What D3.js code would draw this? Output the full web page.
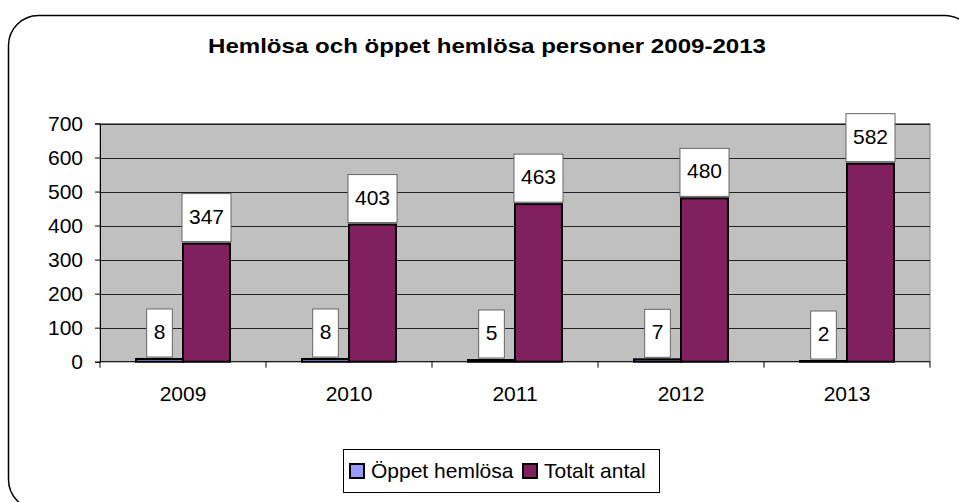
<!DOCTYPE html>
<html>
<head>
<meta charset="utf-8">
<script src="https://cdn.jsdelivr.net/npm/d3@7"></script>
<style>
  html, body { margin: 0; padding: 0; background: #fff; }
  svg { display: block; font-family: "Liberation Sans", Arial, sans-serif; }
</style>
</head>
<body>
<svg id="chart" width="959" height="502"></svg>
<script>
// ── data ──
const years = ['2009', '2010', '2011', '2012', '2013'];
const seriesNames = ['Öppet hemlösa', 'Totalt antal'];
const oppetHemlosa = [8, 8, 5, 7, 2];
const totaltAntal = [347, 403, 463, 480, 582];
const yTicks = [0, 100, 200, 300, 400, 500, 600, 700];

const colors = ['#9999ff', '#80205f'];

(function () {
    'use strict';

    const svg = d3.select('#chart');
    const left = 100, right = 930, top = 123.5, bottom = 361.7;

    // outer rounded frame
    svg.append('rect')
        .attr('x', 8.5).attr('y', 15.5)
        .attr('width', 966).attr('height', 494)
        .attr('rx', 30).attr('ry', 30)
        .attr('fill', '#fff').attr('stroke', '#000').attr('stroke-width', 1.5);

    // title (source font renders wider than ours, so stretch to its width)
    svg.append('text')
        .attr('x', 208).attr('y', 53)
        .attr('font-size', 21).attr('font-weight', 'bold')
        .attr('textLength', 558).attr('lengthAdjust', 'spacingAndGlyphs')
        .text('Hemlösa och öppet hemlösa personer 2009-2013');

    const x0 = d3.scaleBand().domain(years).range([left, right])
        .paddingInner(0.434).paddingOuter(0.217);
    const x1 = d3.scaleBand().domain([0, 1]).range([0, x0.bandwidth()]);
    const y = d3.scaleLinear().domain([0, 700]).range([bottom, top]);

    // plot background
    svg.append('rect')
        .attr('x', left).attr('y', top)
        .attr('width', right - left).attr('height', bottom - top)
        .attr('fill', '#c0c0c0').attr('stroke', '#808080');

    // gridlines
    svg.append('g')
        .selectAll('line')
        .data(yTicks.filter(function (t) { return t > 0; }))
        .join('line')
        .attr('x1', left).attr('x2', right)
        .attr('y1', function (d) { return Math.round(y(d)) + 0.5; })
        .attr('y2', function (d) { return Math.round(y(d)) + 0.5; })
        .attr('stroke', '#222').attr('stroke-width', 1);

    // y axis
    const yAxis = svg.append('g')
        .attr('transform', 'translate(' + left + ',0)')
        .call(d3.axisLeft(y).tickValues(yTicks).tickSize(5).tickPadding(12));
    yAxis.select('.domain').attr('stroke', '#000');
    yAxis.selectAll('.tick line').attr('stroke', '#000');
    yAxis.selectAll('text').attr('font-size', 21).attr('fill', '#000')
        .attr('font-family', '"Liberation Sans", Arial, sans-serif');

    // x axis: ticks between categories
    const xg = svg.append('g');
    xg.append('line')
        .attr('x1', left).attr('x2', right)
        .attr('y1', bottom).attr('y2', bottom)
        .attr('stroke', '#000');
    const step = x0.step();
    xg.selectAll('line.tk')
        .data(d3.range(years.length + 1))
        .join('line').attr('class', 'tk')
        .attr('x1', function (i) { return left + i * step; })
        .attr('x2', function (i) { return left + i * step; })
        .attr('y1', bottom).attr('y2', bottom + 6)
        .attr('stroke', '#000');
    xg.selectAll('text')
        .data(years)
        .join('text')
        .attr('x', function (d) { return x0(d) + x0.bandwidth() / 2; })
        .attr('y', 401)
        .attr('text-anchor', 'middle')
        .attr('font-size', 21)
        .text(function (d) { return d; });

    // bars
    const rows = years.map(function (yr, i) {
        return { year: yr, vals: [oppetHemlosa[i], totaltAntal[i]] };
    });
    const groups = svg.append('g').selectAll('g')
        .data(rows).join('g')
        .attr('transform', function (d) { return 'translate(' + x0(d.year) + ',0)'; });

    groups.selectAll('rect')
        .data(function (d) { return d.vals.map(function (v, k) { return { k: k, v: v }; }); })
        .join('rect')
        .attr('x', function (d) { return x1(d.k); })
        .attr('y', function (d) { return y(d.v); })
        .attr('width', x1.bandwidth())
        .attr('height', function (d) { return y(0) - y(d.v); })
        .attr('fill', function (d) { return colors[d.k]; })
        .attr('stroke', '#000').attr('stroke-width', 2);

    // value labels with white boxes
    const labels = groups.selectAll('g.lbl')
        .data(function (d) { return d.vals.map(function (v, k) { return { k: k, v: v }; }); })
        .join('g').attr('class', 'lbl');
    labels.each(function (d) {
        const g = d3.select(this);
        const cx = x1(d.k) + x1.bandwidth() / 2;
        const boxBottom = y(d.v) - 2;
        const boxTop = boxBottom - 48;
        const rect = g.append('rect');
        const txt = g.append('text')
            .attr('x', cx).attr('y', boxTop + 30)
            .attr('text-anchor', 'middle')
            .attr('font-size', 21)
            .text(d.v);
        const w = txt.node().getComputedTextLength() + 14;
        rect.attr('x', cx - w / 2).attr('y', boxTop)
            .attr('width', w).attr('height', 48)
            .attr('fill', '#fff').attr('stroke', '#666').attr('stroke-width', 1);
    });

    // legend
    const lg = svg.append('g');
    lg.append('rect')
        .attr('x', 343.5).attr('y', 449.5)
        .attr('width', 316).attr('height', 43)
        .attr('fill', '#fff').attr('stroke', '#000');
    const legendX = [350, 523];
    seriesNames.forEach(function (name, i) {
        lg.append('rect')
            .attr('x', legendX[i]).attr('y', 464)
            .attr('width', 14).attr('height', 14)
            .attr('fill', colors[i]).attr('stroke', '#000').attr('stroke-width', 2);
        lg.append('text')
            .attr('x', legendX[i] + 21).attr('y', 478)
            .attr('font-size', 21)
            .text(name);
    });
})();
</script>
</body>
</html>
